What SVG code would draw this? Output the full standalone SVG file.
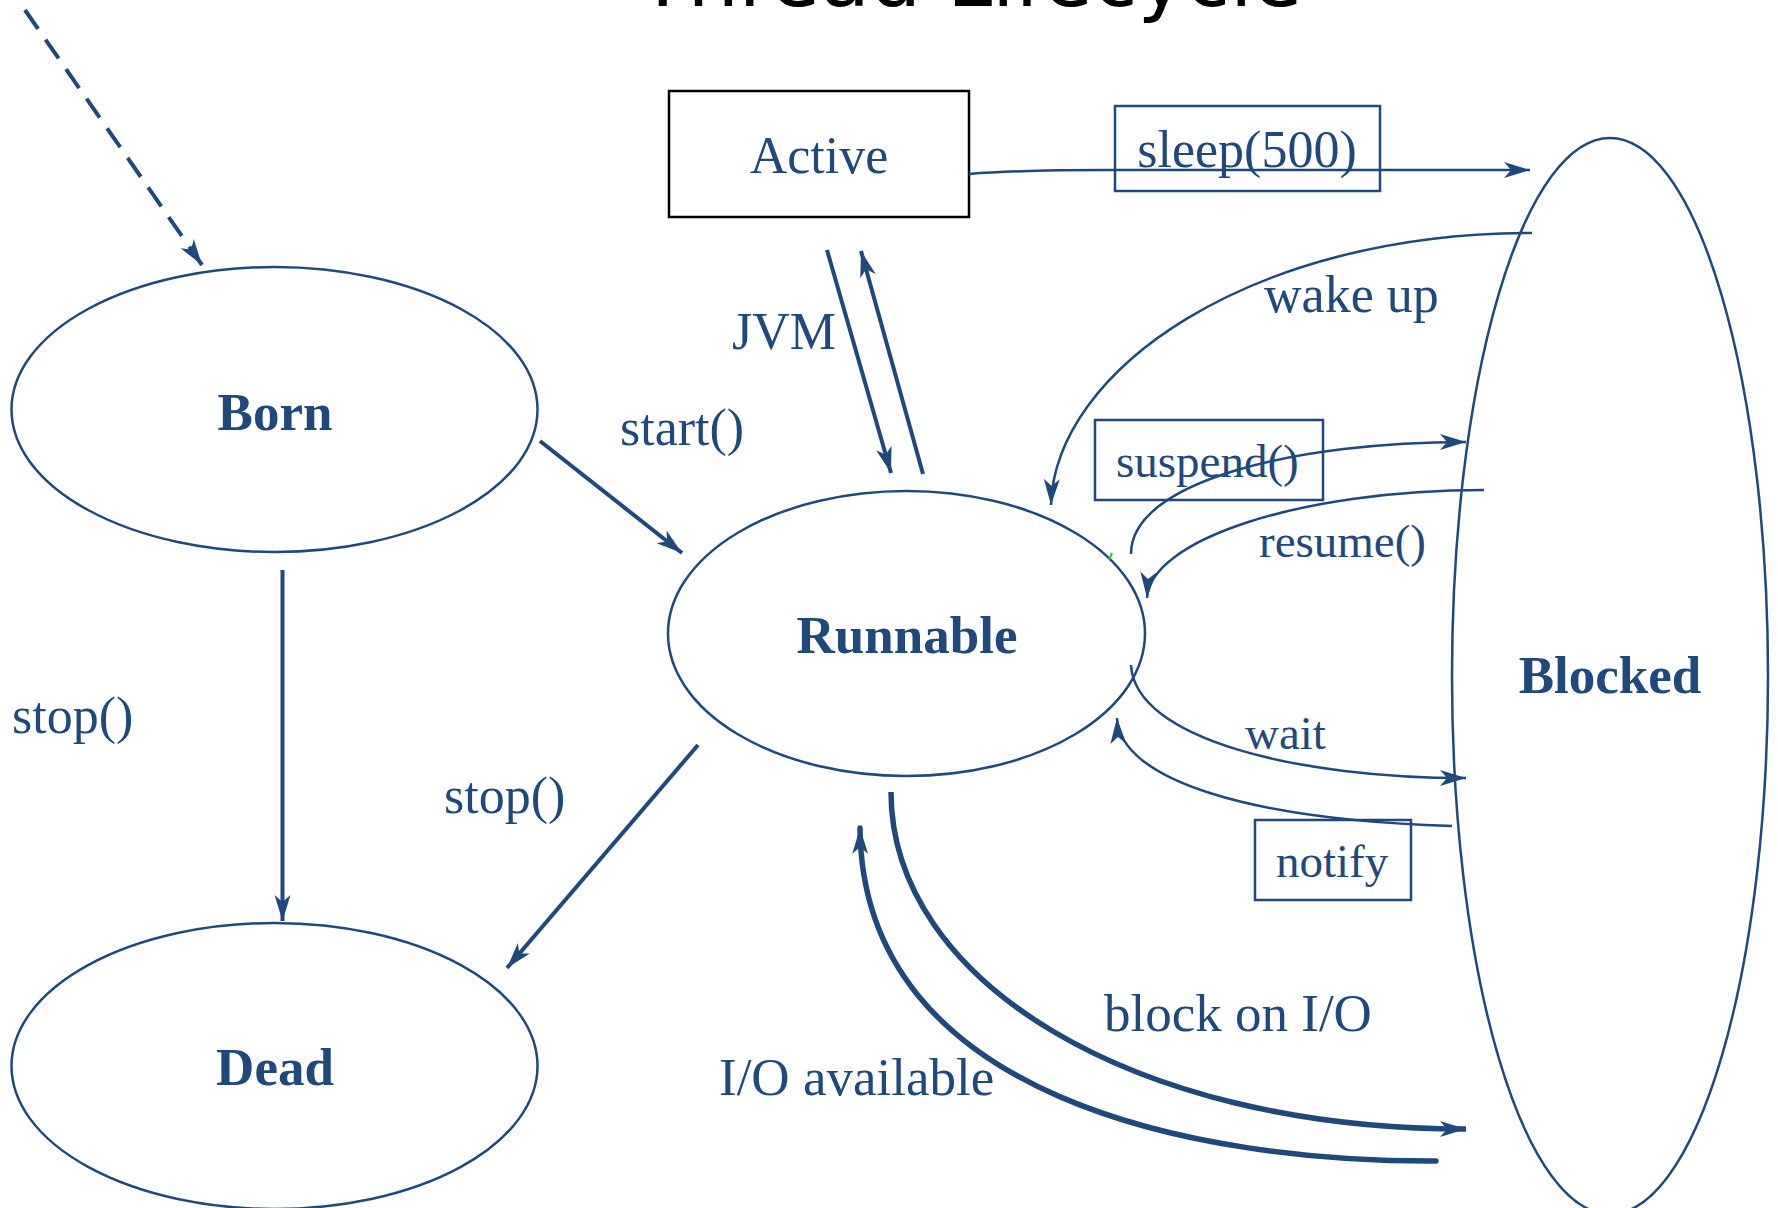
<svg xmlns="http://www.w3.org/2000/svg" width="1778" height="1208" viewBox="0 0 1778 1208">
<defs>
<style>
.st{fill:none;stroke:#1f497d;stroke-width:2.5}
.lbl{font-family:"Liberation Serif","Times New Roman",serif;fill:#1f497d;font-size:52px}
.sm{font-size:47px}
.lg{font-size:53px}
.nm{font-family:"Liberation Serif","Times New Roman",serif;fill:#1f497d;font-size:53px;font-weight:bold;text-anchor:middle}
.c{fill:none;stroke:#1f497d}
.thin{stroke-width:2.5}
.mid{stroke-width:4}
.thick{stroke-width:5.5}
</style>
<marker id="ah" viewBox="-28 -10 30 20" refX="0" refY="0" markerWidth="30" markerHeight="20" markerUnits="userSpaceOnUse" orient="auto">
<path d="M0,0 L-26,-8 L-19,0 L-26,8 Z" fill="#1f497d"/>
</marker>
</defs>
<rect width="1778" height="1208" fill="#ffffff"/>
<text x="638" y="6" font-family="DejaVu Sans, sans-serif" font-size="81" fill="#000000">Thread Lifecycle</text>

<g id="born"><ellipse class="st" cx="274.5" cy="409.5" rx="263" ry="142.5"/><text class="nm" x="275" y="430">Born</text></g>
<g id="dead"><ellipse class="st" cx="274.5" cy="1066" rx="263" ry="143"/><text class="nm" x="275" y="1085">Dead</text></g>
<g id="runnable"><ellipse class="st" cx="906.5" cy="633.5" rx="238.5" ry="142.5"/><text class="nm" x="907" y="653">Runnable</text></g>
<g id="blocked"><ellipse class="st" cx="1610" cy="676" rx="158" ry="538"/><text class="nm" x="1610" y="693">Blocked</text></g>
<g id="active"><rect x="669" y="91" width="300" height="126" fill="none" stroke="#000000" stroke-width="2.5"/><text class="lbl" x="819" y="173" text-anchor="middle">Active</text></g>

<g id="connectors">
<path class="c mid" d="M25,10 L202,265" stroke-dasharray="23,13" marker-end="url(#ah)"/>
<path class="c thin" d="M969,174 Q1020,170 1110,170 L1530,170" marker-end="url(#ah)"/>
<path class="c mid" d="M540,441 L682,553" marker-end="url(#ah)"/>
<path class="c mid" d="M827,250 L891,473" marker-end="url(#ah)"/>
<path class="c mid" d="M923,474 L861,251" marker-end="url(#ah)"/>
<path class="c mid" d="M282.5,570 L282.5,921" marker-end="url(#ah)"/>
<path class="c mid" d="M698,745 L507,968" marker-end="url(#ah)"/>
<path class="c thick" d="M891,792 C891,980 1130,1129 1466,1129" marker-end="url(#ah)"/>
<path class="c thick" d="M1436,1161 C1200,1162 862,1100 860,828" stroke-linecap="round" marker-end="url(#ah)"/>
<path class="c thin" d="M1532,233 C1250,233 1055,370 1051,505" marker-end="url(#ah)"/>
<path class="c thin" d="M1131,554 C1131,480 1300,442 1466,442" marker-end="url(#ah)"/>
<path class="c thin" d="M1484,490 C1300,490 1150,540 1147,598" marker-end="url(#ah)"/>
<path class="c thin" d="M1131,665 C1135,740 1300,778 1466,778" marker-end="url(#ah)"/>
<path class="c thin" d="M1452,826 C1250,820 1120,780 1117,718" marker-end="url(#ah)"/>
<path d="M1109,560 L1112,553" stroke="#22cc22" stroke-width="2" fill="none"/>
</g>

<g id="labels">
<rect x="1115" y="106" width="265" height="85" class="st"/>
<text class="lbl" x="1247" y="167" text-anchor="middle">sleep(500)</text>
<text class="lbl" x="732" y="349">JVM</text>
<text class="lbl" x="620" y="445">start()</text>
<text class="lbl" x="12" y="733">stop()</text>
<text class="lbl" x="444" y="813">stop()</text>
<text class="lbl" x="1264" y="312">wake up</text>
<rect x="1095" y="420" width="228" height="80" class="st"/>
<text class="lbl sm" x="1116" y="477">suspend()</text>
<text class="lbl sm" x="1259" y="557">resume()</text>
<text class="lbl sm" x="1245" y="749">wait</text>
<rect x="1255" y="820" width="156" height="80" class="st"/>
<text class="lbl sm" x="1276" y="877">notify</text>
<text class="lbl lg" x="1104" y="1031">block on I/O</text>
<text class="lbl lg" x="719" y="1095">I/O available</text>
</g>
</svg>
